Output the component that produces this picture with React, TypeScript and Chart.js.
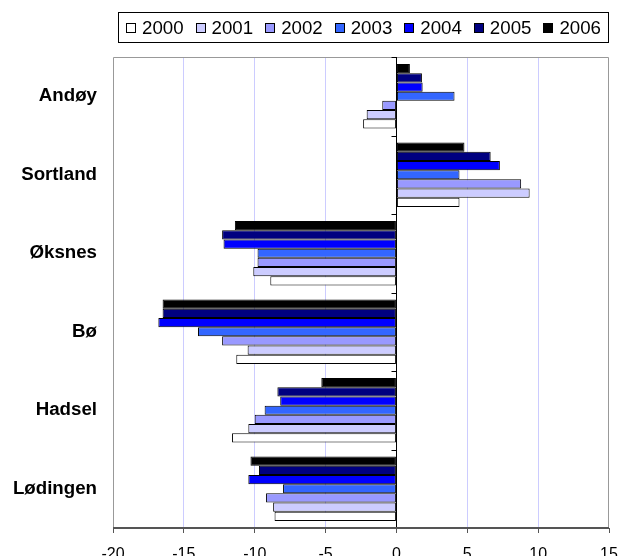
import React, { useEffect, useRef } from "react";
import { Chart, registerables } from "chart.js";

Chart.register(...registerables);

const categories = ["Andøy", "Sortland", "Øksnes", "Bø", "Hadsel", "Lødingen"];
const years = ["2000", "2001", "2002", "2003", "2004", "2005", "2006"];
const v2000 = [-2.35, 4.45, -8.9, -11.3, -11.6, -8.6];
const v2001 = [-2.1, 9.4, -10.1, -10.5, -10.45, -8.7];
const v2002 = [-1.0, 8.8, -9.8, -12.3, -10.0, -9.2];
const v2003 = [4.1, 4.45, -9.8, -14.0, -9.3, -8.0];
const v2004 = [1.85, 7.3, -12.2, -16.8, -8.2, -10.45];
const v2005 = [1.8, 6.65, -12.3, -16.5, -8.4, -9.7];
const v2006 = [0.95, 4.8, -11.4, -16.5, -5.3, -10.3];
const seriesValues = [v2000, v2001, v2002, v2003, v2004, v2005, v2006];
const colors = ["#ffffff", "#ccccff", "#9999ff", "#3366ff", "#0000ff", "#000080", "#000000"];
const xMin = -20;
const xMax = 15;
const xStep = 5;

const FONT = '"Liberation Sans", Arial, Helvetica, sans-serif';

const framePlugin = {
  id: "frame",
  afterDatasetsDraw(chart: any) {
    const { ctx, chartArea: a, scales } = chart;
    const xs = scales.x;
    ctx.save();
    ctx.strokeStyle = "#999999";
    ctx.lineWidth = 1;
    ctx.beginPath();
    ctx.moveTo(a.left + 0.5, a.bottom);
    ctx.lineTo(a.left + 0.5, a.top + 0.5);
    ctx.lineTo(a.right - 0.5, a.top + 0.5);
    ctx.lineTo(a.right - 0.5, a.bottom);
    ctx.stroke();
    const x0 = Math.round(xs.getPixelForValue(0)) + 0.5;
    const n = categories.length;
    ctx.strokeStyle = "#000000";
    ctx.beginPath();
    ctx.moveTo(x0, a.top);
    ctx.lineTo(x0, a.bottom);
    for (let i = 0; i <= n; i++) {
      const yy = Math.round(a.top + (i * (a.bottom - a.top)) / n) + 0.5;
      ctx.moveTo(x0 - 5, yy);
      ctx.lineTo(x0, yy);
    }
    ctx.stroke();
    ctx.strokeStyle = "#555555";
    ctx.lineWidth = 2;
    ctx.beginPath();
    ctx.moveTo(a.left, a.bottom);
    ctx.lineTo(a.right, a.bottom);
    ctx.stroke();
    ctx.restore();
  },
  afterDraw(chart: any) {
    const { ctx, chartArea: a } = chart;
    ctx.save();
    ctx.font = `18.7px ${FONT}`;
    const sq = 10;
    const gapText = 6;
    const gapItem = 12;
    const padL = 8;
    const padR = 8;
    const widths = years.map((y) => ctx.measureText(y).width);
    let total = padL + padR;
    widths.forEach((w, i) => {
      total += sq + gapText + w + (i < widths.length - 1 ? gapItem : 0);
    });
    const boxRight = a.right;
    const boxLeft = boxRight - total;
    const boxTop = 12;
    const boxBottom = 42;
    ctx.strokeStyle = "#000000";
    ctx.lineWidth = 1;
    ctx.strokeRect(Math.round(boxLeft) + 0.5, boxTop + 0.5, Math.round(total) - 1, boxBottom - boxTop);
    const cy = 28;
    let x = boxLeft + padL;
    ctx.textBaseline = "middle";
    ctx.textAlign = "left";
    years.forEach((y, i) => {
      const sx = Math.round(x);
      ctx.fillStyle = colors[i];
      ctx.fillRect(sx, cy - 5, sq, sq);
      ctx.strokeStyle = "#000000";
      ctx.strokeRect(sx + 0.5, cy - 5 + 0.5, sq - 1, sq - 1);
      ctx.fillStyle = "#000000";
      ctx.fillText(y, x + sq + gapText, cy + 1);
      x += sq + gapText + widths[i] + gapItem;
    });
    ctx.restore();
  },
};

export default function App() {
  const ref = useRef<HTMLCanvasElement | null>(null);
  useEffect(() => {
    if (!ref.current) return;
    const order = [6, 5, 4, 3, 2, 1, 0];
    const datasets = order.map((i) => ({
      label: years[i],
      data: seriesValues[i],
      backgroundColor: colors[i],
      borderColor: "#000000",
      borderWidth: 1,
      borderSkipped: false as any,
      categoryPercentage: 0.82,
      barPercentage: 1,
    }));
    const chart = new Chart(ref.current, {
      type: "bar",
      data: { labels: categories, datasets },
      options: {
        indexAxis: "y",
        animation: false,
        responsive: false,
        maintainAspectRatio: false,
        layout: { padding: { top: 57, right: 10, left: 0, bottom: 0 } },
        plugins: { legend: { display: false }, tooltip: { enabled: false } },
        scales: {
          x: {
            type: "linear",
            min: xMin,
            max: xMax,
            ticks: {
              stepSize: xStep,
              color: "#000000",
              font: { family: FONT, size: 16 },
              padding: 12,
            },
            grid: {
              color: (c: any) => {
                const v = c.tick ? c.tick.value : null;
                if (v === 0 || v === xMin || v === xMax) return "rgba(0,0,0,0)";
                return "#ccccff";
              },
              lineWidth: 1,
              drawTicks: true,
              tickLength: 5,
              tickColor: "#555555",
              tickWidth: 1,
            },
            border: { display: false },
            afterFit: (s: any) => {
              s.height = 28;
              s.paddingLeft = 0;
              s.paddingRight = 0;
            },
          },
          y: {
            type: "category",
            ticks: {
              color: "#000000",
              font: { family: FONT, size: 18.7, weight: "bold" },
              padding: 16,
            },
            grid: { display: false, drawTicks: false },
            border: { display: false },
            afterFit: (s: any) => {
              s.width = 113;
              s.paddingTop = 0;
              s.paddingBottom = 0;
            },
          },
        },
      } as any,
      plugins: [framePlugin],
    });
    return () => chart.destroy();
  }, []);
  return (
    <div style={{ position: "absolute", left: 0, top: 0, width: 619, height: 556, background: "#ffffff" }}>
      <canvas ref={ref} width={619} height={556} style={{ display: "block" }} />
    </div>
  );
}
